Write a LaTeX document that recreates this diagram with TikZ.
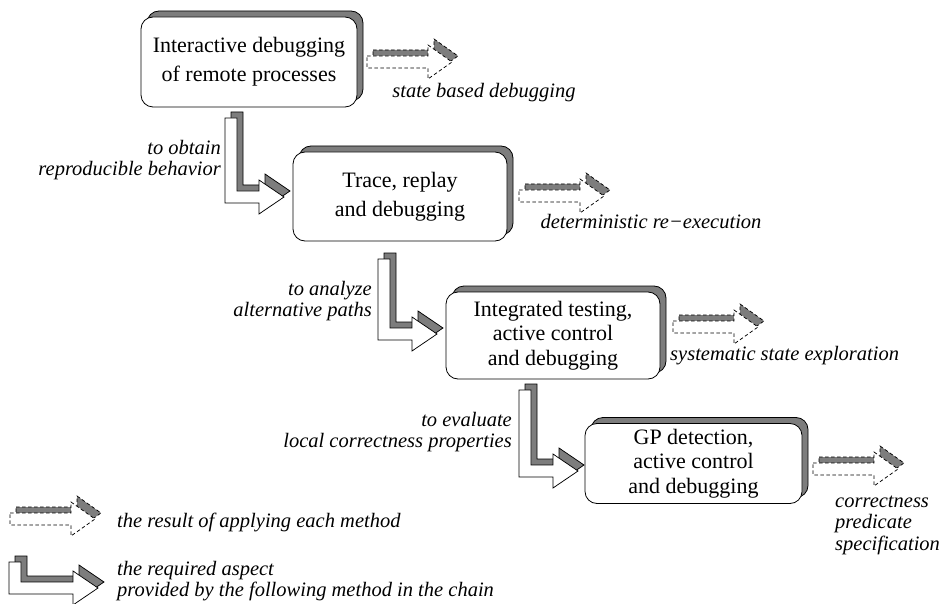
\documentclass[tikz,border=0pt]{standalone}
\usepackage{fontspec}
\setmainfont{Liberation Serif}
\usetikzlibrary{shadows}
\definecolor{shade}{RGB}{125,125,125}
\tikzset{
  % rounded method box with a grey raised edge towards the upper right
  stage/.style={draw, line width=0.8pt, fill=white, rounded corners=12pt,
    align=center, inner sep=0pt,
    general shadow={fill=shade, draw=black, line width=0.8pt,
      shadow xshift=6pt, shadow yshift=6pt}},
  twoline/.style={font=\fontsize{22}{29}\selectfont},
  threeline/.style={font=\fontsize{22}{24.5}\selectfont},
  note/.style={font=\fontsize{20.5}{21.5}\selectfont\itshape, inner sep=0pt},
  bentshadow/.style={draw=black, fill=shade, line width=0.75pt, line join=miter},
  bentbody/.style={draw=black, fill=white, line width=0.75pt, line join=miter},
  resultshadow/.style={draw=black, fill=shade, line width=0.75pt, dash pattern=on 3.5pt off 2.5pt},
  resultbody/.style={draw=black, fill=white, line width=0.75pt, dash pattern=on 3.5pt off 2.5pt},
  % bent block arrow: #1 = drop to the bottom of the bar, #2 = offset of the head base
  pics/bentarrow/.style 2 args={code={
    \draw[bentshadow, shift={(6,-6)}] (0,0) -- (12,0) -- (12,{#1-12}) -- (#2,{#1-12})
      -- (#2,{#1-23}) -- ({#2+25},{#1-6}) -- (#2,{#1+11}) -- (#2,#1) -- (0,#1) -- cycle;
    \draw[bentbody] (0,0) -- (12,0) -- (12,{#1-12}) -- (#2,{#1-12})
      -- (#2,{#1-23}) -- ({#2+25},{#1-6}) -- (#2,{#1+11}) -- (#2,#1) -- (0,#1) -- cycle;
  }},
  % dashed straight block arrow for the outcome of a method
  pics/resultarrow/.style={code={
    \draw[resultshadow, shift={(6,-6)}] (0,-6) -- (61,-6) -- (61,-17) -- (85,0)
      -- (61,17) -- (61,6) -- (0,6) -- cycle;
    \draw[resultbody] (0,-6) -- (61,-6) -- (61,-17) -- (85,0)
      -- (61,17) -- (61,6) -- (0,6) -- cycle;
  }},
}
\begin{document}
\begin{tikzpicture}[x=1pt, y=-1pt]
\useasboundingbox (0,0) rectangle (942,604);

% method boxes
\node[stage, twoline, minimum width=216pt, minimum height=90pt] (b1) at (249,62)
  {Interactive debugging\\of remote processes};
\node[stage, twoline, minimum width=214pt, minimum height=89pt] (b2) at (400,196.5)
  {Trace, replay\\and debugging};
\node[stage, threeline, minimum width=214pt, minimum height=87pt] (b3) at (553,335.5)
  {Integrated testing,\\active control\\and debugging};
\node[stage, threeline, minimum width=217pt, minimum height=80pt] (b4) at (693.5,463.5)
  {GP detection,\\active control\\and debugging};

% chain arrows between the methods
\coordinate (c12) at (225,118);
\coordinate (c23) at (378,259);
\coordinate (c34) at (519,390);
\pic at (c12) {bentarrow={85}{34}};
\pic at (c23) {bentarrow={81}{34}};
\pic at (c34) {bentarrow={87}{34}};

\node[note, align=right, anchor=east] (l12) at (221,160) {to obtain\\reproducible behavior};
\node[note, align=right, anchor=east] (l23) at (372,301) {to analyze\\alternative paths};
\node[note, align=right, anchor=east] (l34) at (512,432) {to evaluate\\local correctness properties};

% results of each method
\coordinate (r1) at (367,62);
\coordinate (r2) at (519,196);
\coordinate (r3) at (673,327);
\coordinate (r4) at (813,469);
\pic at (r1) {resultarrow};
\pic at (r2) {resultarrow};
\pic at (r3) {resultarrow};
\pic at (r4) {resultarrow};

\node[note] (t1) at (484,93) {state based debugging};
\node[note] (t2) at (651,222) {deterministic re−execution};
\node[note, anchor=west] (t3) at (670,356) {systematic state exploration};
\node[note, align=left, anchor=west] (t4) at (835,525) {correctness\\predicate\\specification};

% legend
\coordinate (k1) at (10,519);
\coordinate (k2) at (9,562);
\pic at (k1) {resultarrow};
\pic at (k2) {bentarrow={32}{64}};
\node[note, anchor=west] (k1t) at (117,522) {the result of applying each method};
\node[note, align=left, anchor=west] (k2t) at (117,581) {the required aspect\\provided by the following method in the chain};
\end{tikzpicture}
\end{document}
